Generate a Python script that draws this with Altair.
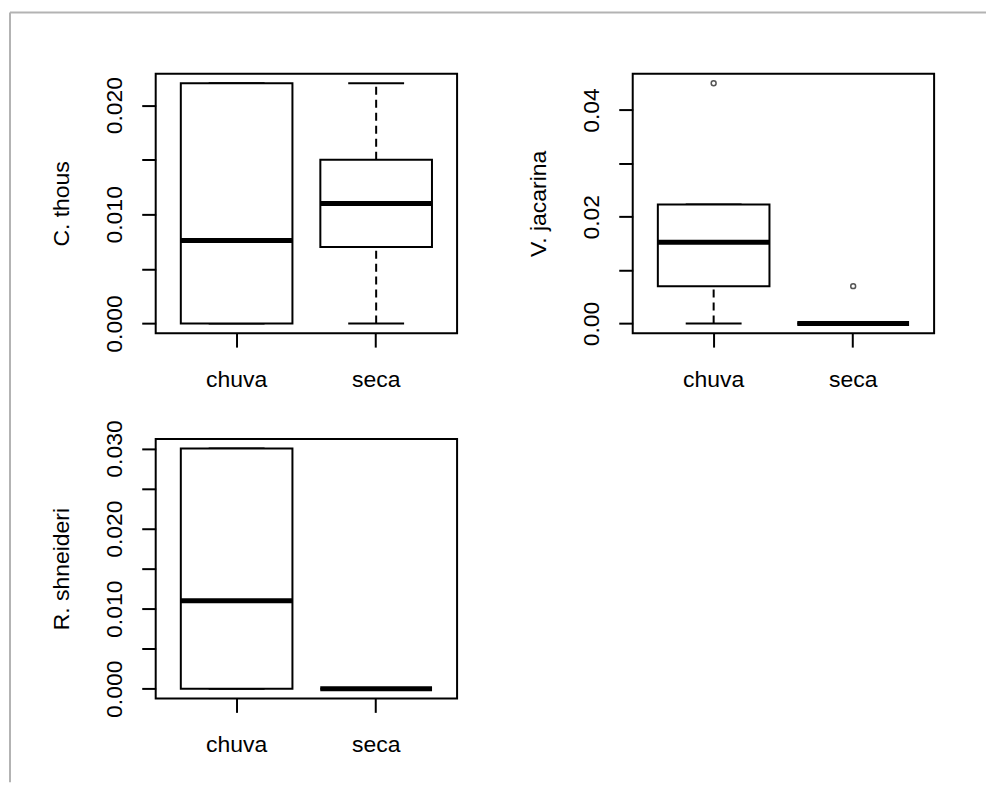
import altair as alt
import pandas as pd

categories = ["chuva", "seca"]

# C. thous (box statistics per category)
ct_lower = [0.0, 0.0]
ct_q1 = [0.0, 0.007]
ct_median = [0.0076, 0.011]
ct_q3 = [0.022, 0.015]
ct_upper = [0.022, 0.022]
ct_out_cat = []
ct_out_val = []
ct_ticks = [0.0, 0.005, 0.010, 0.015, 0.020]
ct_domain = [-0.00088, 0.02288]

# V. jacarina
vj_lower = [0.0, 0.0]
vj_q1 = [0.007, 0.0]
vj_median = [0.0152, 0.0]
vj_q3 = [0.0223, 0.0]
vj_upper = [0.0223, 0.0]
vj_out_cat = ["chuva", "seca"]
vj_out_val = [0.045, 0.007]
vj_ticks = [0.0, 0.01, 0.02, 0.03, 0.04]
vj_domain = [-0.0018, 0.0468]

# R. shneideri
rs_lower = [0.0, 0.0]
rs_q1 = [0.0, 0.0]
rs_median = [0.011, 0.0]
rs_q3 = [0.030, 0.0]
rs_upper = [0.030, 0.0]
rs_out_cat = []
rs_out_val = []
rs_ticks = [0.0, 0.005, 0.010, 0.015, 0.020, 0.025, 0.030]
rs_domain = [-0.0012, 0.0312]

FONT = "Liberation Sans"
FS = 23
W, H = 302, 260


def panel(title, lower, q1, median, q3, upper, out_cat, out_val, ticks, domain,
          label_expr, border=False):
    df = pd.DataFrame({"cat": categories, "lower": lower, "q1": q1,
                       "median": median, "q3": q3, "upper": upper})
    xenc = alt.X("cat:N",
                 scale=alt.Scale(domain=categories, paddingInner=0.2, paddingOuter=0.18),
                 axis=alt.Axis(title=None, labelAngle=0, labelPadding=21,
                               labelFontSize=FS, labelFont=FONT, labelColor="black",
                               tickSize=14, tickWidth=2, tickColor="black", domain=False))
    yscale = alt.Scale(domain=domain, nice=False, zero=False)
    yaxis = alt.Axis(title=title, values=ticks, labelExpr=label_expr,
                     labelOverlap=False, labelFlush=False, labelBound=False,
                     labelAngle=270, labelAlign="center", labelBaseline="alphabetic",
                     labelPadding=20, labelFontSize=FS, labelFont=FONT,
                     labelColor="black", tickSize=14, tickWidth=2, tickColor="black",
                     domain=False, grid=False,
                     titleAngle=270, titleAlign="center", titleBaseline="alphabetic",
                     titleX=-87, titleY=H / 2, titleFontSize=FS, titleFont=FONT,
                     titleFontWeight="normal", titleColor="black")
    base = alt.Chart(df)
    w_hi = base.mark_rule(color="black", strokeWidth=2, strokeDash=[8, 5]).encode(
        x=xenc, y=alt.Y("q3:Q", scale=yscale, axis=yaxis), y2="upper:Q")
    w_lo = base.mark_rule(color="black", strokeWidth=2, strokeDash=[8, 5]).encode(
        x=xenc, y=alt.Y("lower:Q", scale=yscale, axis=yaxis), y2="q1:Q")
    cap_hi = base.mark_tick(color="black", thickness=2, size=56, opacity=1).encode(
        x=xenc, y=alt.Y("upper:Q", scale=yscale, axis=yaxis))
    cap_lo = base.mark_tick(color="black", thickness=2, size=56, opacity=1).encode(
        x=xenc, y=alt.Y("lower:Q", scale=yscale, axis=yaxis))
    box = base.mark_bar(fill="white", stroke="black", strokeWidth=2, opacity=1).encode(
        x=xenc, y=alt.Y("q1:Q", scale=yscale, axis=yaxis), y2="q3:Q")
    med = base.mark_tick(color="black", thickness=5, size=112, opacity=1).encode(
        x=xenc, y=alt.Y("median:Q", scale=yscale, axis=yaxis))
    layers = [w_hi, w_lo, cap_hi, cap_lo, box, med]
    if out_val:
        odf = pd.DataFrame({"cat": out_cat, "value": out_val})
        pts = alt.Chart(odf).mark_point(shape="circle", filled=False, size=24,
                                         strokeWidth=1.5, color="#555", opacity=1).encode(
            x=xenc, y=alt.Y("value:Q", scale=yscale, axis=yaxis))
        layers.append(pts)
    if border:
        bdf = pd.DataFrame({"k": [0]})
        top = alt.Chart(bdf).mark_rule(color="#b3b3b3", strokeWidth=2).encode(
            x=alt.value(-146), x2=alt.value(832), y=alt.value(-61.3))
        left = alt.Chart(bdf).mark_rule(color="#b3b3b3", strokeWidth=2).encode(
            x=alt.value(-146), y=alt.value(-61.3), y2=alt.value(710))
        layers = [top, left] + layers
    return alt.layer(*layers).properties(width=W, height=H)


expr3 = "abs(datum.value*100 - round(datum.value*100)) < 1e-6 ? format(datum.value, '.3f') : ''"
expr2 = "abs(datum.value*50 - round(datum.value*50)) < 1e-6 ? format(datum.value, '.2f') : ''"

p1 = panel("C. thous", ct_lower, ct_q1, ct_median, ct_q3, ct_upper, ct_out_cat, ct_out_val,
           ct_ticks, ct_domain, expr3, border=True)
p2 = panel("V. jacarina", vj_lower, vj_q1, vj_median, vj_q3, vj_upper, vj_out_cat, vj_out_val,
           vj_ticks, vj_domain, expr2)
p3 = panel("R. shneideri", rs_lower, rs_q1, rs_median, rs_q3, rs_upper, rs_out_cat, rs_out_val,
           rs_ticks, rs_domain, expr3)

chart = alt.concat(p1, p2, p3, columns=2, spacing={"row": 106, "column": 176},
                   bounds="flush").properties(
    padding={"left": 0, "top": 1, "right": 0, "bottom": 0},
    background="white",
).configure_view(stroke="black", strokeWidth=2)

chart.save("out.html", embed_options={"renderer": "svg", "actions": False})
